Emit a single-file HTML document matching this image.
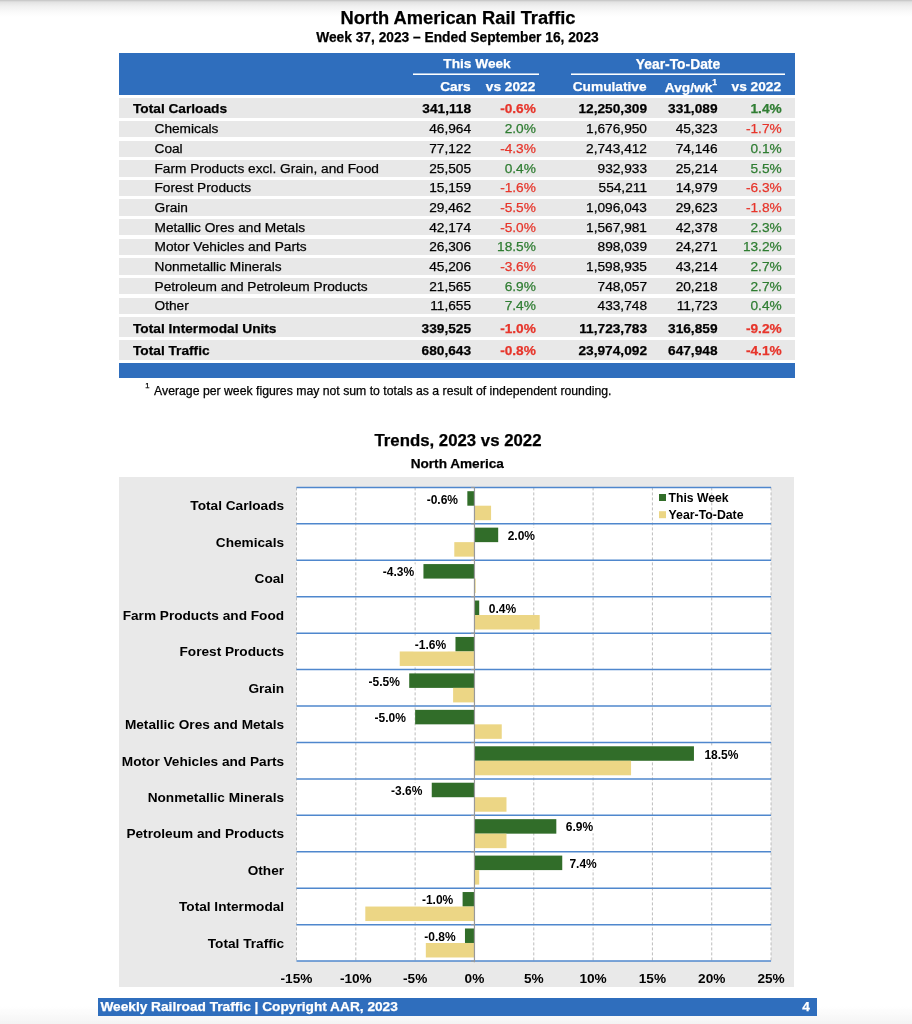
<!DOCTYPE html>
<html><head><meta charset="utf-8"><title>North American Rail Traffic</title>
<style>
html,body{margin:0;padding:0;}
body{width:912px;height:1024px;background:#fff;position:relative;overflow:hidden;font-family:"Liberation Sans",sans-serif;color:#000;}
.abs,.r,.c,.hl,.ln,.bar,.lab,.cat,.xl,.gl,.hg{position:absolute;}
.topshade{left:0;top:0;width:912px;height:18px;background:linear-gradient(#c2c2c2 0,#e2e2e2 2px,#efefef 6px,#fafafa 12px,#fff 17px);}
.t1{left:0;width:912px;text-align:center;font-weight:bold;white-space:nowrap;}
.hdr{left:119px;top:53px;width:676.4px;height:41.8px;background:#2f6ebd;}
.hl{color:#fff;font-weight:bold;font-size:13.7px;line-height:16px;white-space:nowrap;}
.ln{height:2px;background:linear-gradient(rgba(255,255,255,.55) 0,rgba(255,255,255,.55) 1px,#fff 1px,#fff 2px);}
.r{left:119px;width:676px;background:#e8e8e8;}
.c{white-space:nowrap;font-size:13.7px;line-height:16px;}
.b{font-weight:bold;}
.neg{color:#e7352b;}
.pos{color:#2f7d32;}
.num{text-align:right;width:120px;}
.chartbg{left:119.2px;top:477px;width:674.7px;height:509.7px;background:#e9e9e9;}
.plot{left:296px;top:487px;width:475px;height:474px;background:#fff;}
.gl{top:487px;width:0;height:474px;border-left:1px dashed #c4c4c4;}
.hg{left:296px;width:475px;height:1.6px;background:#5b8fd6;}
.bar{height:14.5px;}
.g{background:#2d6a27;}
.y{background:#ecd685;}
.lab{font-size:12px;line-height:14px;font-weight:bold;background:#fff;white-space:nowrap;padding:1px 2px;}
.cat{font-size:13.5px;line-height:16px;font-weight:bold;text-align:right;width:170px;left:114px;white-space:nowrap;}
.xl{font-size:13.5px;line-height:16px;font-weight:bold;text-align:center;width:60px;top:969px;white-space:nowrap;}
.foot{left:97.8px;top:998.2px;width:719.4px;height:17.6px;background:#2f6ebd;}
.ft{color:#fff;font-weight:bold;font-size:13.7px;line-height:16px;white-space:nowrap;}
#wrap{position:absolute;left:0;top:0;width:912px;height:1024px;will-change:transform;-webkit-text-stroke:0.25px;}
</style></head><body>
<div id="wrap">
<div class="abs topshade"></div>
<div class="abs t1" style="top:6.5px;left:2px;font-size:18.3px;line-height:22px;">North American Rail Traffic</div>
<div class="abs t1" style="top:29.6px;left:1.5px;font-size:13.75px;line-height:16px;">Week 37, 2023 – Ended September 16, 2023</div>
<div class="abs hdr"></div>
<div class="hl" style="left:377px;width:200px;text-align:center;top:56px;">This Week</div>
<div class="ln" style="left:413px;width:126px;top:73px;"></div>
<div class="hl" style="left:578px;width:200px;text-align:center;top:56px;font-size:13.85px;">Year-To-Date</div>
<div class="ln" style="left:571px;width:214px;top:73px;"></div>
<div class="hl" style="left:350.6px;width:120px;text-align:right;top:78.6px;">Cars</div>
<div class="hl" style="left:415.3px;width:120px;text-align:right;top:78.6px;">vs 2022</div>
<div class="hl" style="left:526.5px;width:120px;text-align:right;top:78.6px;">Cumulative</div>
<div class="hl" style="left:597.0px;width:120px;text-align:right;top:79.6px;">Avg/wk<sup style="font-size:8.5px;line-height:0;position:relative;top:-1.5px;vertical-align:super;">1</sup></div>
<div class="hl" style="left:661.0px;width:120px;text-align:right;top:78.6px;">vs 2022</div>
<div class="r" style="top:97.6px;height:20.2px;"><div class="c b" style="left:14px;top:3.40px;">Total Carloads</div><div class="c num b" style="left:232.1px;top:3.40px;">341,118</div><div class="c num b neg" style="left:296.9px;top:3.40px;">-0.6%</div><div class="c num b" style="left:408.0px;top:3.40px;">12,250,309</div><div class="c num b" style="left:478.5px;top:3.40px;">331,089</div><div class="c num b pos" style="left:542.7px;top:3.40px;">1.4%</div></div>
<div class="r" style="top:120.9px;height:16.4px;"><div class="c" style="left:35.5px;top:0.40px;">Chemicals</div><div class="c num" style="left:232.1px;top:0.40px;">46,964</div><div class="c num pos" style="left:296.9px;top:0.40px;">2.0%</div><div class="c num" style="left:408.0px;top:0.40px;">1,676,950</div><div class="c num" style="left:478.5px;top:0.40px;">45,323</div><div class="c num neg" style="left:542.7px;top:0.40px;">-1.7%</div></div>
<div class="r" style="top:140.54px;height:16.4px;"><div class="c" style="left:35.5px;top:0.42px;">Coal</div><div class="c num" style="left:232.1px;top:0.42px;">77,122</div><div class="c num neg" style="left:296.9px;top:0.42px;">-4.3%</div><div class="c num" style="left:408.0px;top:0.42px;">2,743,412</div><div class="c num" style="left:478.5px;top:0.42px;">74,146</div><div class="c num pos" style="left:542.7px;top:0.42px;">0.1%</div></div>
<div class="r" style="top:160.18px;height:16.4px;"><div class="c" style="left:35.5px;top:0.44px;">Farm Products excl. Grain, and Food</div><div class="c num" style="left:232.1px;top:0.44px;">25,505</div><div class="c num pos" style="left:296.9px;top:0.44px;">0.4%</div><div class="c num" style="left:408.0px;top:0.44px;">932,933</div><div class="c num" style="left:478.5px;top:0.44px;">25,214</div><div class="c num pos" style="left:542.7px;top:0.44px;">5.5%</div></div>
<div class="r" style="top:179.82px;height:16.4px;"><div class="c" style="left:35.5px;top:0.46px;">Forest Products</div><div class="c num" style="left:232.1px;top:0.46px;">15,159</div><div class="c num neg" style="left:296.9px;top:0.46px;">-1.6%</div><div class="c num" style="left:408.0px;top:0.46px;">554,211</div><div class="c num" style="left:478.5px;top:0.46px;">14,979</div><div class="c num neg" style="left:542.7px;top:0.46px;">-6.3%</div></div>
<div class="r" style="top:199.46px;height:16.4px;"><div class="c" style="left:35.5px;top:0.48px;">Grain</div><div class="c num" style="left:232.1px;top:0.48px;">29,462</div><div class="c num neg" style="left:296.9px;top:0.48px;">-5.5%</div><div class="c num" style="left:408.0px;top:0.48px;">1,096,043</div><div class="c num" style="left:478.5px;top:0.48px;">29,623</div><div class="c num neg" style="left:542.7px;top:0.48px;">-1.8%</div></div>
<div class="r" style="top:219.1px;height:16.4px;"><div class="c" style="left:35.5px;top:0.50px;">Metallic Ores and Metals</div><div class="c num" style="left:232.1px;top:0.50px;">42,174</div><div class="c num neg" style="left:296.9px;top:0.50px;">-5.0%</div><div class="c num" style="left:408.0px;top:0.50px;">1,567,981</div><div class="c num" style="left:478.5px;top:0.50px;">42,378</div><div class="c num pos" style="left:542.7px;top:0.50px;">2.3%</div></div>
<div class="r" style="top:238.74px;height:16.4px;"><div class="c" style="left:35.5px;top:0.52px;">Motor Vehicles and Parts</div><div class="c num" style="left:232.1px;top:0.52px;">26,306</div><div class="c num pos" style="left:296.9px;top:0.52px;">18.5%</div><div class="c num" style="left:408.0px;top:0.52px;">898,039</div><div class="c num" style="left:478.5px;top:0.52px;">24,271</div><div class="c num pos" style="left:542.7px;top:0.52px;">13.2%</div></div>
<div class="r" style="top:258.38px;height:16.4px;"><div class="c" style="left:35.5px;top:0.54px;">Nonmetallic Minerals</div><div class="c num" style="left:232.1px;top:0.54px;">45,206</div><div class="c num neg" style="left:296.9px;top:0.54px;">-3.6%</div><div class="c num" style="left:408.0px;top:0.54px;">1,598,935</div><div class="c num" style="left:478.5px;top:0.54px;">43,214</div><div class="c num pos" style="left:542.7px;top:0.54px;">2.7%</div></div>
<div class="r" style="top:278.02px;height:16.4px;"><div class="c" style="left:35.5px;top:0.56px;">Petroleum and Petroleum Products</div><div class="c num" style="left:232.1px;top:0.56px;">21,565</div><div class="c num pos" style="left:296.9px;top:0.56px;">6.9%</div><div class="c num" style="left:408.0px;top:0.56px;">748,057</div><div class="c num" style="left:478.5px;top:0.56px;">20,218</div><div class="c num pos" style="left:542.7px;top:0.56px;">2.7%</div></div>
<div class="r" style="top:297.66px;height:16.4px;"><div class="c" style="left:35.5px;top:0.58px;">Other</div><div class="c num" style="left:232.1px;top:0.58px;">11,655</div><div class="c num pos" style="left:296.9px;top:0.58px;">7.4%</div><div class="c num" style="left:408.0px;top:0.58px;">433,748</div><div class="c num" style="left:478.5px;top:0.58px;">11,723</div><div class="c num pos" style="left:542.7px;top:0.58px;">0.4%</div></div>
<div class="r" style="top:317.2px;height:19.7px;"><div class="c b" style="left:14px;top:3.60px;">Total Intermodal Units</div><div class="c num b" style="left:232.1px;top:3.60px;">339,525</div><div class="c num b neg" style="left:296.9px;top:3.60px;">-1.0%</div><div class="c num b" style="left:408.0px;top:3.60px;">11,723,783</div><div class="c num b" style="left:478.5px;top:3.60px;">316,859</div><div class="c num b neg" style="left:542.7px;top:3.60px;">-9.2%</div></div>
<div class="r" style="top:340.1px;height:19.7px;"><div class="c b" style="left:14px;top:3.30px;">Total Traffic</div><div class="c num b" style="left:232.1px;top:3.30px;">680,643</div><div class="c num b neg" style="left:296.9px;top:3.30px;">-0.8%</div><div class="c num b" style="left:408.0px;top:3.30px;">23,974,092</div><div class="c num b" style="left:478.5px;top:3.30px;">647,948</div><div class="c num b neg" style="left:542.7px;top:3.30px;">-4.1%</div></div>
<div class="abs" style="left:119px;top:363px;width:676px;height:15px;background:#2f6ebd;"></div>
<div class="abs" style="left:145.2px;top:381.2px;font-size:7.6px;line-height:9px;">1</div><div class="abs" style="left:154.1px;top:384px;font-size:12.25px;line-height:14px;white-space:nowrap;">Average per week figures may not sum to totals as a result of independent rounding.</div>
<div class="abs t1" style="top:431px;left:2px;font-size:16.8px;line-height:20px;">Trends, 2023 vs 2022</div>
<div class="abs t1" style="top:455.5px;left:1.3px;font-size:13.6px;line-height:16px;">North America</div>
<div class="abs chartbg"></div>
<svg class="abs" style="left:0;top:470px;" width="912" height="530" viewBox="0 470 912 530" font-family="Liberation Sans, sans-serif" font-weight="bold">
<rect x="296.50" y="487.40" width="474.55" height="473.72" fill="#fff"/>
<line x1="296.50" y1="487.40" x2="296.50" y2="961.12" stroke="#bdbdbd" stroke-width="1" stroke-dasharray="3 2"/><line x1="355.82" y1="487.40" x2="355.82" y2="961.12" stroke="#bdbdbd" stroke-width="1" stroke-dasharray="3 2"/><line x1="415.14" y1="487.40" x2="415.14" y2="961.12" stroke="#bdbdbd" stroke-width="1" stroke-dasharray="3 2"/><line x1="533.78" y1="487.40" x2="533.78" y2="961.12" stroke="#bdbdbd" stroke-width="1" stroke-dasharray="3 2"/><line x1="593.10" y1="487.40" x2="593.10" y2="961.12" stroke="#bdbdbd" stroke-width="1" stroke-dasharray="3 2"/><line x1="652.42" y1="487.40" x2="652.42" y2="961.12" stroke="#bdbdbd" stroke-width="1" stroke-dasharray="3 2"/><line x1="711.74" y1="487.40" x2="711.74" y2="961.12" stroke="#bdbdbd" stroke-width="1" stroke-dasharray="3 2"/><line x1="771.06" y1="487.40" x2="771.06" y2="961.12" stroke="#bdbdbd" stroke-width="1" stroke-dasharray="3 2"/>
<rect x="467.34" y="491.20" width="7.12" height="14.5" fill="#316d29"/><rect x="474.46" y="505.70" width="16.61" height="14.5" fill="#ecd685"/><text x="284.1" y="510.45" font-size="13.65" text-anchor="end">Total Carloads</text>
<rect x="474.46" y="527.64" width="23.73" height="14.5" fill="#316d29"/><rect x="454.29" y="542.14" width="20.17" height="14.5" fill="#ecd685"/><text x="284.1" y="546.89" font-size="13.65" text-anchor="end">Chemicals</text>
<rect x="423.44" y="564.08" width="51.02" height="14.5" fill="#316d29"/><rect x="474.46" y="578.58" width="1.19" height="14.5" fill="#ecd685"/><text x="284.1" y="583.33" font-size="13.65" text-anchor="end">Coal</text>
<rect x="474.46" y="600.52" width="4.75" height="14.5" fill="#316d29"/><rect x="474.46" y="615.02" width="65.25" height="14.5" fill="#ecd685"/><text x="284.1" y="619.77" font-size="13.65" text-anchor="end">Farm Products and Food</text>
<rect x="455.48" y="636.96" width="18.98" height="14.5" fill="#316d29"/><rect x="399.72" y="651.46" width="74.74" height="14.5" fill="#ecd685"/><text x="284.1" y="656.21" font-size="13.65" text-anchor="end">Forest Products</text>
<rect x="409.21" y="673.40" width="65.25" height="14.5" fill="#316d29"/><rect x="453.10" y="687.90" width="21.36" height="14.5" fill="#ecd685"/><text x="284.1" y="692.65" font-size="13.65" text-anchor="end">Grain</text>
<rect x="415.14" y="709.84" width="59.32" height="14.5" fill="#316d29"/><rect x="474.46" y="724.34" width="27.29" height="14.5" fill="#ecd685"/><text x="284.1" y="729.09" font-size="13.65" text-anchor="end">Metallic Ores and Metals</text>
<rect x="474.46" y="746.28" width="219.48" height="14.5" fill="#316d29"/><rect x="474.46" y="760.78" width="156.60" height="14.5" fill="#ecd685"/><text x="284.1" y="765.53" font-size="13.65" text-anchor="end">Motor Vehicles and Parts</text>
<rect x="431.75" y="782.72" width="42.71" height="14.5" fill="#316d29"/><rect x="474.46" y="797.22" width="32.03" height="14.5" fill="#ecd685"/><text x="284.1" y="801.97" font-size="13.65" text-anchor="end">Nonmetallic Minerals</text>
<rect x="474.46" y="819.16" width="81.86" height="14.5" fill="#316d29"/><rect x="474.46" y="833.66" width="32.03" height="14.5" fill="#ecd685"/><text x="284.1" y="838.41" font-size="13.65" text-anchor="end">Petroleum and Products</text>
<rect x="474.46" y="855.60" width="87.79" height="14.5" fill="#316d29"/><rect x="474.46" y="870.10" width="4.75" height="14.5" fill="#ecd685"/><text x="284.1" y="874.85" font-size="13.65" text-anchor="end">Other</text>
<rect x="462.60" y="892.04" width="11.86" height="14.5" fill="#316d29"/><rect x="365.31" y="906.54" width="109.15" height="14.5" fill="#ecd685"/><text x="284.1" y="911.29" font-size="13.65" text-anchor="end">Total Intermodal</text>
<rect x="464.97" y="928.48" width="9.49" height="14.5" fill="#316d29"/><rect x="425.82" y="942.98" width="48.64" height="14.5" fill="#ecd685"/><text x="284.1" y="947.73" font-size="13.65" text-anchor="end">Total Traffic</text>
<line x1="296.50" y1="487.40" x2="771.05" y2="487.40" stroke="#4f87cd" stroke-width="1.5"/><line x1="296.50" y1="523.84" x2="771.05" y2="523.84" stroke="#4f87cd" stroke-width="1.5"/><line x1="296.50" y1="560.28" x2="771.05" y2="560.28" stroke="#4f87cd" stroke-width="1.5"/><line x1="296.50" y1="596.72" x2="771.05" y2="596.72" stroke="#4f87cd" stroke-width="1.5"/><line x1="296.50" y1="633.16" x2="771.05" y2="633.16" stroke="#4f87cd" stroke-width="1.5"/><line x1="296.50" y1="669.60" x2="771.05" y2="669.60" stroke="#4f87cd" stroke-width="1.5"/><line x1="296.50" y1="706.04" x2="771.05" y2="706.04" stroke="#4f87cd" stroke-width="1.5"/><line x1="296.50" y1="742.48" x2="771.05" y2="742.48" stroke="#4f87cd" stroke-width="1.5"/><line x1="296.50" y1="778.92" x2="771.05" y2="778.92" stroke="#4f87cd" stroke-width="1.5"/><line x1="296.50" y1="815.36" x2="771.05" y2="815.36" stroke="#4f87cd" stroke-width="1.5"/><line x1="296.50" y1="851.80" x2="771.05" y2="851.80" stroke="#4f87cd" stroke-width="1.5"/><line x1="296.50" y1="888.24" x2="771.05" y2="888.24" stroke="#4f87cd" stroke-width="1.5"/><line x1="296.50" y1="924.68" x2="771.05" y2="924.68" stroke="#4f87cd" stroke-width="1.5"/><line x1="296.50" y1="961.12" x2="771.05" y2="961.12" stroke="#4f87cd" stroke-width="1.5"/>
<line x1="474.46" y1="487.40" x2="474.46" y2="962.32" stroke="#999" stroke-width="1.2"/>
<line x1="470.96" y1="487.40" x2="474.46" y2="487.40" stroke="#999" stroke-width="1"/><line x1="470.96" y1="523.84" x2="474.46" y2="523.84" stroke="#999" stroke-width="1"/><line x1="470.96" y1="560.28" x2="474.46" y2="560.28" stroke="#999" stroke-width="1"/><line x1="470.96" y1="596.72" x2="474.46" y2="596.72" stroke="#999" stroke-width="1"/><line x1="470.96" y1="633.16" x2="474.46" y2="633.16" stroke="#999" stroke-width="1"/><line x1="470.96" y1="669.60" x2="474.46" y2="669.60" stroke="#999" stroke-width="1"/><line x1="470.96" y1="706.04" x2="474.46" y2="706.04" stroke="#999" stroke-width="1"/><line x1="470.96" y1="742.48" x2="474.46" y2="742.48" stroke="#999" stroke-width="1"/><line x1="470.96" y1="778.92" x2="474.46" y2="778.92" stroke="#999" stroke-width="1"/><line x1="470.96" y1="815.36" x2="474.46" y2="815.36" stroke="#999" stroke-width="1"/><line x1="470.96" y1="851.80" x2="474.46" y2="851.80" stroke="#999" stroke-width="1"/><line x1="470.96" y1="888.24" x2="474.46" y2="888.24" stroke="#999" stroke-width="1"/><line x1="470.96" y1="924.68" x2="474.46" y2="924.68" stroke="#999" stroke-width="1"/><line x1="470.96" y1="961.12" x2="474.46" y2="961.12" stroke="#999" stroke-width="1"/>
<rect x="425.19" y="491.40" width="34.35" height="14" fill="#fff"/><text x="426.69" y="503.50" font-size="12">-0.6%</text>
<rect x="506.19" y="527.84" width="30.35" height="14" fill="#fff"/><text x="507.69" y="539.94" font-size="12">2.0%</text>
<rect x="381.29" y="564.28" width="34.35" height="14" fill="#fff"/><text x="382.79" y="576.38" font-size="12">-4.3%</text>
<rect x="487.21" y="600.72" width="30.35" height="14" fill="#fff"/><text x="488.71" y="612.82" font-size="12">0.4%</text>
<rect x="413.33" y="637.16" width="34.35" height="14" fill="#fff"/><text x="414.83" y="649.26" font-size="12">-1.6%</text>
<rect x="367.06" y="673.60" width="34.35" height="14" fill="#fff"/><text x="368.56" y="685.70" font-size="12">-5.5%</text>
<rect x="372.99" y="710.04" width="34.35" height="14" fill="#fff"/><text x="374.49" y="722.14" font-size="12">-5.0%</text>
<rect x="702.94" y="746.48" width="37.02" height="14" fill="#fff"/><text x="704.44" y="758.58" font-size="12">18.5%</text>
<rect x="389.60" y="782.92" width="34.35" height="14" fill="#fff"/><text x="391.10" y="795.02" font-size="12">-3.6%</text>
<rect x="564.32" y="819.36" width="30.35" height="14" fill="#fff"/><text x="565.82" y="831.46" font-size="12">6.9%</text>
<rect x="567.95" y="855.80" width="30.35" height="14" fill="#fff"/><text x="569.45" y="867.90" font-size="12">7.4%</text>
<rect x="420.45" y="892.24" width="34.35" height="14" fill="#fff"/><text x="421.95" y="904.34" font-size="12">-1.0%</text>
<rect x="422.82" y="928.68" width="34.35" height="14" fill="#fff"/><text x="424.32" y="940.78" font-size="12">-0.8%</text>
<text x="296.50" y="982.5" font-size="13.65" text-anchor="middle">-15%</text><text x="355.82" y="982.5" font-size="13.65" text-anchor="middle">-10%</text><text x="415.14" y="982.5" font-size="13.65" text-anchor="middle">-5%</text><text x="474.46" y="982.5" font-size="13.65" text-anchor="middle">0%</text><text x="533.78" y="982.5" font-size="13.65" text-anchor="middle">5%</text><text x="593.10" y="982.5" font-size="13.65" text-anchor="middle">10%</text><text x="652.42" y="982.5" font-size="13.65" text-anchor="middle">15%</text><text x="711.74" y="982.5" font-size="13.65" text-anchor="middle">20%</text><text x="771.06" y="982.5" font-size="13.65" text-anchor="middle">25%</text>
<rect x="659" y="494" width="7" height="7" fill="#316d29"/>
<text x="668.6" y="501.6" font-size="12.2">This Week</text>
<rect x="659" y="511.2" width="7" height="7" fill="#ecd685"/>
<text x="668.6" y="518.9" font-size="12.3">Year-To-Date</text>
</svg>
<div class="abs" style="left:0;top:1006px;width:912px;height:18px;background:linear-gradient(rgba(244,244,244,0),rgba(244,244,244,1));"></div>
<div class="abs foot"></div>
<div class="abs ft" style="left:100.4px;top:998.8px;">Weekly Railroad Traffic | Copyright AAR, 2023</div>
<div class="abs ft" style="left:802.3px;top:998.8px;">4</div>
</div>
</body></html>
